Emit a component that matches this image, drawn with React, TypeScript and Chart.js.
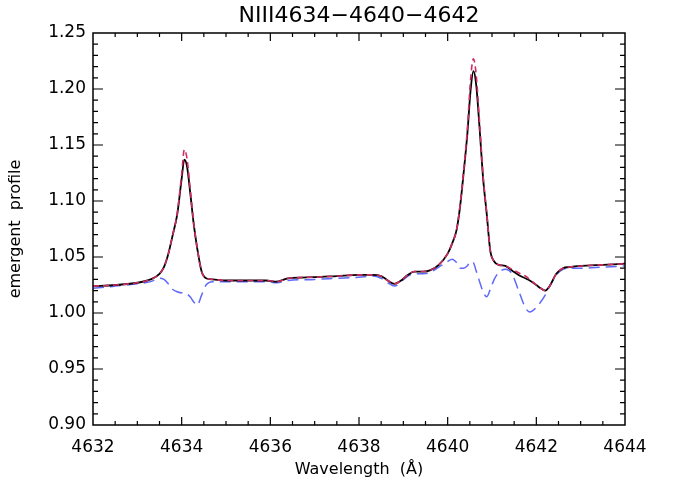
import React, { useEffect, useRef } from "react";
import { Chart, registerables } from "chart.js";

Chart.register(...registerables);

const TITLE = "NIII4634\u22124640\u22124642";
const X_TITLE = "Wavelength  (\u00C5)";
const Y_TITLE = "emergent  profile";

const X_MIN = 4632;
const X_MAX = 4644;
const Y_MIN = 0.9;
const Y_MAX = 1.25;

const wavelengths = [
  4632.0, 4632.5, 4633.0, 4633.3, 4633.5, 4633.6, 4633.7, 4633.8, 4633.9, 4634.0,
  4634.06, 4634.12, 4634.2, 4634.27, 4634.35, 4634.45, 4634.55, 4634.7, 4635.0, 4635.5,
  4635.9, 4636.15, 4636.4, 4637.0, 4637.5, 4638.0, 4638.3, 4638.5, 4638.65, 4638.8,
  4638.95, 4639.1, 4639.25, 4639.45, 4639.6, 4639.8, 4640.0, 4640.1, 4640.2, 4640.28,
  4640.36, 4640.44, 4640.52, 4640.58, 4640.64, 4640.72, 4640.8, 4640.88, 4640.96, 4641.05,
  4641.15, 4641.3, 4641.45, 4641.6, 4641.75, 4641.85, 4642.0, 4642.1, 4642.2, 4642.3,
  4642.45, 4642.6, 4642.75, 4643.0, 4643.5, 4644.0,
];

const blackProfile = [
  1.024, 1.025, 1.027, 1.030, 1.035, 1.041, 1.053, 1.070, 1.088, 1.120,
  1.137, 1.131, 1.105, 1.080, 1.058, 1.037, 1.031, 1.030, 1.029, 1.029,
  1.029, 1.028, 1.031, 1.032, 1.033, 1.034, 1.034, 1.033, 1.029, 1.026,
  1.029, 1.034, 1.037, 1.037, 1.038, 1.043, 1.053, 1.062, 1.074, 1.095,
  1.125, 1.158, 1.200, 1.216, 1.205, 1.165, 1.120, 1.089, 1.056, 1.046,
  1.043, 1.042, 1.038, 1.034, 1.031, 1.029, 1.025, 1.022, 1.020, 1.024,
  1.035, 1.040, 1.041, 1.042, 1.043, 1.044,
];

const redProfile = [
  1.024, 1.025, 1.027, 1.030, 1.035, 1.041, 1.053, 1.070, 1.089, 1.124,
  1.146, 1.138, 1.108, 1.081, 1.058, 1.037, 1.031, 1.030, 1.029, 1.029,
  1.029, 1.028, 1.031, 1.032, 1.033, 1.034, 1.034, 1.033, 1.029, 1.026,
  1.029, 1.034, 1.037, 1.037, 1.038, 1.043, 1.053, 1.062, 1.074, 1.096,
  1.127, 1.162, 1.210, 1.227, 1.214, 1.170, 1.122, 1.089, 1.056, 1.046,
  1.043, 1.042, 1.039, 1.036, 1.033, 1.030, 1.025, 1.022, 1.020, 1.024,
  1.035, 1.040, 1.041, 1.042, 1.043, 1.044,
];

const blueProfile = [
  1.022, 1.024, 1.026, 1.028, 1.031, 1.030, 1.026, 1.021, 1.019, 1.018,
  1.018, 1.017, 1.014, 1.010, 1.007, 1.016, 1.025, 1.028, 1.028, 1.028,
  1.028, 1.027, 1.029, 1.030, 1.031, 1.032, 1.033, 1.031, 1.027, 1.024,
  1.028, 1.033, 1.035, 1.035, 1.036, 1.041, 1.046, 1.048, 1.045, 1.040,
  1.040, 1.042, 1.046, 1.045, 1.038, 1.028, 1.019, 1.0145, 1.021, 1.030,
  1.036, 1.039, 1.035, 1.020, 1.005, 1.001, 1.005, 1.010, 1.016, 1.024,
  1.034, 1.039, 1.040, 1.040, 1.041, 1.042,
];

const FONT = "'DejaVu Sans', sans-serif";

const frameTicksPlugin = {
  id: "frameTicks",
  afterDatasetsDraw(chart: any) {
    const { ctx, chartArea, scales } = chart;
    const xs = scales.x;
    const ys = scales.y;
    const { left, right, top, bottom } = chartArea;
    ctx.save();
    ctx.strokeStyle = "#000";
    ctx.lineWidth = 1.5;
    ctx.strokeRect(left, top, right - left, bottom - top);
    ctx.lineWidth = 1.2;
    ctx.beginPath();
    const nx = Math.round((X_MAX - X_MIN) / 0.5);
    for (let i = 1; i < nx; i++) {
      const px = xs.getPixelForValue(X_MIN + i * 0.5);
      const len = i % 4 === 0 ? 8 : 4;
      ctx.moveTo(px, bottom);
      ctx.lineTo(px, bottom - len);
      ctx.moveTo(px, top);
      ctx.lineTo(px, top + len);
    }
    const ny = Math.round((Y_MAX - Y_MIN) / 0.01);
    for (let i = 1; i < ny; i++) {
      const py = ys.getPixelForValue(Y_MIN + i * 0.01);
      const len = i % 5 === 0 ? 10 : 5;
      ctx.moveTo(left, py);
      ctx.lineTo(left + len, py);
      ctx.moveTo(right, py);
      ctx.lineTo(right - len, py);
    }
    ctx.stroke();
    ctx.restore();
  },
};

export default function App() {
  const canvasRef = useRef<HTMLCanvasElement | null>(null);

  useEffect(() => {
    const canvas = canvasRef.current;
    if (!canvas) return;
    const pts = (vals: number[]) => wavelengths.map((x, i) => ({ x, y: vals[i] }));
    const chart = new Chart(canvas, {
      type: "line",
      data: {
        datasets: [
          {
            label: "red",
            data: pts(redProfile),
            borderColor: "rgb(208, 45, 100)",
            borderWidth: 1.6,
            borderDash: [6, 4],
            pointRadius: 0,
            cubicInterpolationMode: "monotone",
            order: 0,
          },
          {
            label: "black",
            data: pts(blackProfile),
            borderColor: "#000000",
            borderWidth: 1.8,
            pointRadius: 0,
            cubicInterpolationMode: "monotone",
            order: 1,
          },
          {
            label: "blue",
            data: pts(blueProfile),
            borderColor: "rgb(95, 105, 250)",
            borderWidth: 1.5,
            borderDash: [11, 6],
            pointRadius: 0,
            cubicInterpolationMode: "monotone",
            order: 2,
          },
        ],
      },
      options: {
        animation: false,
        responsive: false,
        events: [],
        layout: { padding: 0 },
        plugins: {
          legend: { display: false },
          tooltip: { enabled: false },
          title: {
            display: true,
            text: TITLE,
            fullSize: false,
            color: "#000",
            font: { family: FONT, size: 22, weight: "normal", lineHeight: 1.2 },
            padding: { top: 3, bottom: 3.6 },
          },
        },
        scales: {
          x: {
            type: "linear",
            min: X_MIN,
            max: X_MAX,
            grid: { display: false, drawTicks: false },
            border: { display: false },
            ticks: {
              stepSize: 2,
              color: "#000",
              padding: 12,
              maxRotation: 0,
              font: { family: FONT, size: 17, lineHeight: 1.2 },
              callback: (v: any) => String(Math.round(Number(v))),
            },
            title: {
              display: true,
              text: X_TITLE,
              color: "#000",
              font: { family: FONT, size: 16, lineHeight: 1.2 },
              padding: { top: 0, bottom: 5.4 },
            },
            afterFit: (s: any) => {
              s.height = 60;
            },
          },
          y: {
            type: "linear",
            min: Y_MIN,
            max: Y_MAX,
            grid: { display: false, drawTicks: false },
            border: { display: false },
            ticks: {
              stepSize: 0.05,
              color: "#000",
              padding: 7,
              font: { family: FONT, size: 17, lineHeight: 1.2 },
              callback: (v: any) => Number(v).toFixed(2),
            },
            title: {
              display: true,
              text: Y_TITLE,
              color: "#000",
              font: { family: FONT, size: 16, lineHeight: 1.2 },
              padding: { top: 6, bottom: 0 },
            },
            afterFit: (s: any) => {
              s.width = 93;
            },
          },
          y2: {
            type: "linear",
            position: "right",
            display: true,
            grid: { display: false, drawTicks: false },
            border: { display: false },
            ticks: { display: false },
            afterFit: (s: any) => {
              s.width = 58;
            },
          },
        },
      },
      plugins: [frameTicksPlugin],
    } as any);
    return () => chart.destroy();
  }, []);

  return (
    <div style={{ position: "absolute", left: 0, top: 0, width: 683, height: 485, background: "#fff" }}>
      <canvas ref={canvasRef} width={683} height={485} />
    </div>
  );
}
